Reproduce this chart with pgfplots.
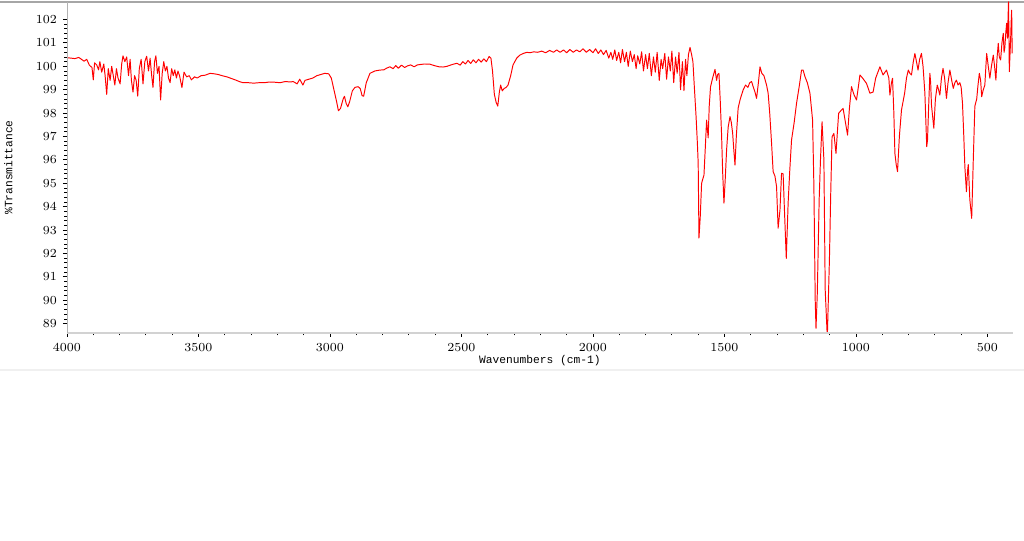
\documentclass[border=0pt]{standalone}
\usepackage{pgfplots}
\pgfplotsset{compat=1.18}
\usepackage{pgfplotstable}
\usepackage{fontspec}
\setmainfont{Liberation Serif}
\setmonofont{Liberation Mono}

% IR spectrum, wavenumber (cm-1) vs %T
\pgfplotstableread{
w T
4000 100.37
3985 100.35
3970 100.33
3955 100.38
3945 100.30
3935 100.22
3925 100.30
3915 100.05
3905 99.95
3900 99.42
3895 100.15
3887 100.06
3880 99.85
3875 100.20
3868 99.75
3860 100.10
3855 99.60
3849 98.80
3843 99.90
3836 99.40
3830 100.00
3824 99.60
3818 99.20
3812 99.90
3806 99.50
3798 99.25
3792 100.10
3787 100.45
3780 100.20
3773 100.40
3766 99.60
3760 100.30
3755 99.40
3749 98.90
3743 99.60
3737 99.40
3731 98.73
3725 99.90
3718 100.30
3711 99.25
3704 100.20
3697 100.43
3690 99.80
3684 100.35
3678 99.60
3673 99.10
3667 100.20
3662 100.45
3656 99.70
3650 100.00
3644 98.56
3638 99.70
3632 100.20
3626 99.80
3620 100.00
3614 99.50
3608 99.30
3602 99.90
3596 99.60
3590 99.85
3584 99.50
3578 99.80
3572 99.60
3563 99.09
3555 99.75
3545 99.55
3535 99.60
3527 99.42
3515 99.55
3505 99.50
3490 99.60
3475 99.62
3456 99.70
3440 99.68
3425 99.65
3410 99.60
3392 99.55
3375 99.48
3360 99.42
3345 99.35
3331 99.30
3310 99.30
3290 99.28
3270 99.30
3250 99.30
3230 99.33
3210 99.32
3190 99.30
3170 99.35
3150 99.33
3140 99.35
3125 99.25
3115 99.45
3103 99.20
3095 99.40
3080 99.45
3065 99.50
3050 99.60
3038 99.64
3020 99.70
3005 99.68
2995 99.50
2985 99.00
2975 98.50
2968 98.10
2960 98.20
2950 98.60
2945 98.72
2938 98.40
2932 98.27
2925 98.50
2915 98.95
2905 99.10
2893 99.13
2885 99.05
2878 98.75
2872 98.72
2862 99.30
2848 99.70
2830 99.80
2810 99.84
2795 99.85
2785 99.92
2772 99.98
2760 99.90
2750 100.03
2740 99.92
2728 100.05
2716 99.95
2705 100.02
2693 100.06
2680 99.98
2668 100.06
2655 100.08
2640 100.10
2620 100.09
2600 100.02
2585 99.98
2570 99.97
2555 100.00
2540 100.06
2528 100.10
2517 100.13
2505 100.05
2495 100.20
2485 100.10
2475 100.25
2465 100.12
2455 100.28
2445 100.15
2435 100.30
2425 100.18
2415 100.32
2405 100.20
2395 100.42
2388 100.35
2382 99.80
2375 98.80
2368 98.45
2362 98.30
2356 98.90
2351 99.20
2345 98.95
2338 99.05
2330 99.10
2323 99.20
2313 99.60
2304 100.06
2290 100.35
2278 100.48
2265 100.55
2251 100.60
2240 100.58
2225 100.62
2210 100.60
2195 100.65
2180 100.58
2165 100.68
2150 100.60
2138 100.70
2125 100.60
2112 100.70
2100 100.58
2088 100.72
2075 100.60
2063 100.70
2050 100.62
2038 100.75
2025 100.60
2013 100.72
2000 100.58
1990 100.75
1980 100.55
1970 100.70
1960 100.50
1950 100.68
1940 100.35
1932 100.60
1925 100.30
1917 100.70
1910 100.25
1902 100.60
1895 100.15
1888 100.72
1880 100.20
1873 100.60
1866 100.00
1858 100.65
1850 100.20
1843 100.50
1836 99.90
1830 100.45
1822 100.10
1815 100.62
1808 99.80
1800 100.50
1793 99.90
1786 100.55
1778 99.60
1770 100.40
1763 99.75
1756 100.60
1748 99.40
1741 100.30
1735 99.90
1727 100.55
1720 99.45
1713 100.40
1706 99.80
1700 100.65
1693 99.30
1686 100.40
1680 99.70
1673 100.60
1667 99.00
1660 100.20
1654 98.96
1648 100.30
1643 99.60
1637 100.50
1631 100.81
1625 100.50
1620 100.20
1614 99.00
1608 97.85
1603 96.70
1600 95.87
1597 92.66
1592 93.60
1587 95.00
1582 95.20
1578 95.35
1573 96.50
1568 97.70
1562 96.94
1558 98.30
1553 99.13
1545 99.50
1536 99.87
1530 99.40
1526 99.65
1521 99.70
1516 98.50
1511 97.06
1507 95.50
1502 94.15
1497 95.20
1492 96.42
1486 97.40
1479 97.85
1474 97.60
1469 97.15
1465 96.50
1460 95.78
1455 97.00
1448 98.22
1440 98.60
1429 98.99
1420 99.20
1411 99.10
1404 99.30
1397 99.35
1390 99.10
1384 98.90
1378 98.63
1371 99.30
1365 99.98
1358 99.70
1350 99.60
1340 99.20
1334 98.85
1328 98.00
1321 96.72
1315 95.50
1308 95.30
1302 94.86
1296 93.08
1289 93.86
1283 95.43
1277 95.40
1272 93.86
1265 91.79
1258 94.15
1252 95.50
1245 96.85
1235 97.60
1226 98.42
1215 99.20
1207 99.84
1201 99.84
1194 99.56
1185 99.30
1175 98.85
1165 97.70
1160 94.86
1155 90.00
1152 88.80
1147 90.31
1140 94.29
1135 96.00
1129 97.63
1122 96.00
1117 90.44
1109 88.40
1101 91.72
1096 94.57
1091 96.99
1084 97.13
1076 96.28
1066 97.99
1058 98.10
1049 98.20
1040 97.60
1032 97.06
1025 98.20
1017 99.13
1008 98.80
998 98.56
990 99.20
985 99.63
975 99.50
960 99.27
947 98.85
935 98.90
925 99.50
915 99.80
909 99.98
897 99.63
884 99.84
875 99.50
871 98.77
865 99.30
861 99.49
856 98.00
852 96.28
847 95.80
842 95.50
835 97.00
827 98.13
815 98.85
808 99.50
801 99.84
795 99.70
789 99.63
782 100.20
776 100.55
770 100.20
764 99.84
758 100.30
751 100.55
745 100.00
738 98.85
731 96.57
728 96.85
723 98.50
719 99.70
716 99.30
713 98.35
708 97.80
704 97.35
698 98.60
691 99.20
686 99.00
681 98.77
675 99.50
669 99.91
663 99.50
656 98.63
650 99.30
643 99.84
636 99.40
630 99.06
624 99.30
618 99.41
612 99.20
605 99.30
600 99.10
595 98.42
590 97.00
586 95.71
580 94.64
576 95.50
573 95.80
567 94.29
560 93.50
554 95.99
548 98.30
541 98.60
536 99.20
531 99.70
526 99.40
522 98.70
516 99.00
510 99.20
506 100.00
503 100.55
497 100.00
491 99.49
485 100.00
478 100.48
473 100.00
468 99.41
464 100.30
459 100.98
455 100.40
450 100.27
445 101.00
440 101.41
437 100.60
434 100.80
430 101.50
427 101.84
424 101.20
420 102.76
418 101.00
417 99.77
414 100.60
412 101.13
410 101.90
408 102.40
406 100.55
}\spectrum

\begin{document}
\begin{tikzpicture}
\fill[white] (0,0) rectangle (20.48,10.82);
\useasboundingbox (0,0) rectangle (20.48,10.82);
% window frame lines
\draw[gray!70, line width=1pt] (0,10.78) -- (20.48,10.78);
\draw[gray!12, line width=0.6pt] (0,3.42) -- (20.48,3.42);
\begin{axis}[
    at={(1.34cm,4.16cm)}, anchor=south west,
    width=18.92cm, height=6.62cm, scale only axis,
    x dir=reverse,
    xmin=403, xmax=4000,
    ymin=88.6, ymax=102.75,
    axis line style={draw=none},
    xtick={500,1000,...,4000},
    ytick={89,90,...,102},
    minor x tick num=4,
    minor y tick num=4,
    xtick pos=left, ytick pos=left,
    tick align=outside,
    major tick length=0.08cm,
    minor tick length=0.05cm,
    tick style={black, line width=0.5pt},
    /pgf/number format/set thousands separator={},
    every tick label/.append style={font=\fontsize{7.2}{8}\selectfont},
    xlabel={Wavenumbers (cm-1)},
    ylabel={\%Transmittance},
    xlabel style={font=\ttfamily\fontsize{6.4}{7}\selectfont, at={(axis description cs:0.5,-0.082)}, anchor=center},
    ylabel style={font=\ttfamily\fontsize{6.4}{7}\selectfont, at={(axis description cs:-0.062,0.5)}, anchor=center},
    clip=true,
]
\addplot[red, line width=0.55pt, line join=round] table[x=w, y=T] {\spectrum};
\end{axis}
% axis lines
\draw[gray!35, line width=1.6pt] (1.34,4.16) -- (20.26,4.16);
\draw[gray!60, line width=0.4pt] (1.34,4.16) -- (1.34,10.78);
\end{tikzpicture}
\end{document}
